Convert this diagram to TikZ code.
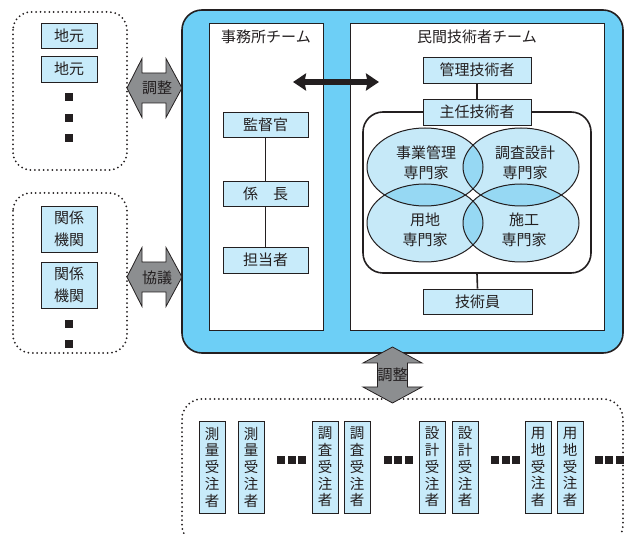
\documentclass[tikz,border=0pt]{standalone}
\usepackage{fontspec}
\setmainfont{Noto Sans CJK JP}
\usetikzlibrary{arrows.meta}
\definecolor{ink}{HTML}{231F20}
\definecolor{skyb}{HTML}{6DCFF6}
\definecolor{paleb}{HTML}{C8EBFA}
\definecolor{ellb}{HTML}{C6E9F8}
\definecolor{lensb}{HTML}{96D8F3}
\definecolor{arrg}{HTML}{8C8E90}
\tikzset{
  lbl/.style={font=\fontsize{15pt}{20pt}\selectfont, text=ink, inner sep=0pt, align=center},
  bluebox/.style={draw=ink, line width=0.9pt, fill=paleb, inner sep=0pt, text=ink,
    font=\fontsize{15pt}{21.7pt}\selectfont, align=center},
  vbox/.style={bluebox, minimum width=26pt, minimum height=92pt,
    font=\fontsize{14.5pt}{16.75pt}\selectfont},
  dotbox/.style={draw=ink, line width=2pt, dash pattern=on 0pt off 4.4pt, line cap=round, rounded corners=18pt},
  bullet/.style={fill=ink, minimum size=8pt, inner sep=0pt},
  garrow/.style={fill=arrg, draw=ink, line width=0.8pt, line join=miter},
  wbox/.style={fill=white, draw=ink, line width=0.9pt},
  link/.style={draw=ink, line width=1.6pt},
  ell/.style={x radius=58pt, y radius=39pt},
}
\begin{document}
\begin{tikzpicture}[x=1pt,y=-1pt]
\useasboundingbox (0,0) rectangle (624,534);
\clip (0,0) rectangle (624,534);

% left dotted groups
\draw[dotbox] (13,12) rectangle (127,170);
\draw[dotbox] (13,193) rectangle (127,353);
\node[bluebox, minimum width=56pt, minimum height=25pt] (jm1) at (69,35.5) {地元};
\node[bluebox, minimum width=56pt, minimum height=26pt] (jm2) at (69,69) {地元};
\node[bullet] (b1) at (69,97) {};
\node[bullet] (b2) at (69,118) {};
\node[bullet] (b3) at (69,138) {};
\node[bluebox, minimum width=56pt, minimum height=46pt] (kk1) at (69,229) {関係\\機関};
\node[bluebox, minimum width=56pt, minimum height=46pt] (kk2) at (69,285) {関係\\機関};
\node[bullet] (b4) at (69,324) {};
\node[bullet] (b5) at (69,344) {};

% main blue box
\draw[fill=skyb, draw=ink, line width=1.6pt, rounded corners=20pt] (182,10) rectangle (623,353);
\draw[wbox] (209,23) rectangle (323,330);
\draw[wbox] (350,23) rectangle (604,330);
\node[lbl] (t1) at (266,37) {事務所チーム};
\node[lbl] (t2) at (477,37) {民間技術者チーム};

% black double arrow
\coordinate (da1) at (293,82);
\coordinate (da2) at (379,82);
\draw[ink, line width=5.5pt, {Stealth[length=13pt,width=17pt,inset=1.5pt]}-{Stealth[length=13pt,width=17pt,inset=1.5pt]}] (da1) -- (da2);

% office team
\node[bluebox, minimum width=85pt, minimum height=25pt] (kt) at (265.5,124.5) {監督官};
\node[bluebox, minimum width=85pt, minimum height=25pt] (kc) at (265.5,193.5) {係　長};
\node[bluebox, minimum width=85pt, minimum height=26pt] (tt) at (265.5,260) {担当者};
\draw[link] (kt.south) -- (kc.north);
\draw[link] (kc.south) -- (tt.north);

% private team
\node[draw=ink, line width=1.6pt, rounded corners=20pt, minimum width=228pt, minimum height=161pt, inner sep=0pt] (exp) at (477,192.5) {};
\fill[ellb] (425,167) ellipse [ell];
\fill[ellb] (521,167) ellipse [ell];
\fill[ellb] (425,223) ellipse [ell];
\fill[ellb] (521,223) ellipse [ell];
\begin{scope}
  \clip (425,167) ellipse [ell];
  \fill[lensb] (521,167) ellipse [ell];
  \fill[lensb] (425,223) ellipse [ell];
\end{scope}
\begin{scope}
  \clip (521,223) ellipse [ell];
  \fill[lensb] (521,167) ellipse [ell];
  \fill[lensb] (425,223) ellipse [ell];
\end{scope}
\draw[ink, line width=1pt] (425,167) ellipse [ell];
\draw[ink, line width=1pt] (521,167) ellipse [ell];
\draw[ink, line width=1pt] (425,223) ellipse [ell];
\draw[ink, line width=1pt] (521,223) ellipse [ell];
\node[lbl] (e1) at (426,163) {事業管理\\専門家};
\node[lbl] (e2) at (525,163) {調査設計\\専門家};
\node[lbl] (e3) at (425,230) {用地\\専門家};
\node[lbl] (e4) at (524,230) {施工\\専門家};

\node[bluebox, minimum width=108pt, minimum height=26pt] (kg) at (477,70) {管理技術者};
\node[bluebox, minimum width=108pt, minimum height=26pt] (sn) at (477,112) {主任技術者};
\draw[link] (kg.south) -- (sn.north);
\node[bluebox, minimum width=109pt, minimum height=25pt] (gi) at (477.5,301.5) {技術員};
\draw[link] (exp.south) -- (gi.north);

% bottom dotted group
\draw[dotbox, rounded corners=20pt] (182,399) rectangle (623,545);
\node[vbox] (v1) at (212,467) {測\\量\\受\\注\\者};
\node[vbox] (v2) at (251,467) {測\\量\\受\\注\\者};
\node[vbox] (v3) at (325,467) {調\\査\\受\\注\\者};
\node[vbox] (v4) at (357,467) {調\\査\\受\\注\\者};
\node[vbox] (v5) at (432,467) {設\\計\\受\\注\\者};
\node[vbox] (v6) at (465,467) {設\\計\\受\\注\\者};
\node[vbox] (v7) at (538,467) {用\\地\\受\\注\\者};
\node[vbox] (v8) at (570,467) {用\\地\\受\\注\\者};
\foreach \g/\cx in {a/291.5, b/398, c/505.5, d/609}{
  \node[bullet] (\g1) at (\cx-10.5,460) {};
  \node[bullet] (\g2) at (\cx,460) {};
  \node[bullet] (\g3) at (\cx+10.5,460) {};
}

% gray double arrows
\draw[garrow] (127,88) -- (142,58.5) -- (142,73) -- (166,73) -- (166,58.5) -- (182,88)
  -- (166,117.5) -- (166,103) -- (142,103) -- (142,117.5) -- cycle;
\node[lbl] (c1) at (157,87.5) {調整};
\draw[garrow] (127,277) -- (142,247.5) -- (142,262) -- (166,262) -- (166,247.5) -- (182,277)
  -- (166,306.5) -- (166,292) -- (142,292) -- (142,306.5) -- cycle;
\node[lbl] (c2) at (157,278) {協議};
\draw[garrow] (392.5,347) -- (422,363) -- (407.5,363) -- (407.5,387) -- (422,387) -- (392.5,403)
  -- (363,387) -- (377.5,387) -- (377.5,363) -- (363,363) -- cycle;
\node[lbl] (c3) at (392.5,375) {調整};
\end{tikzpicture}
\end{document}
